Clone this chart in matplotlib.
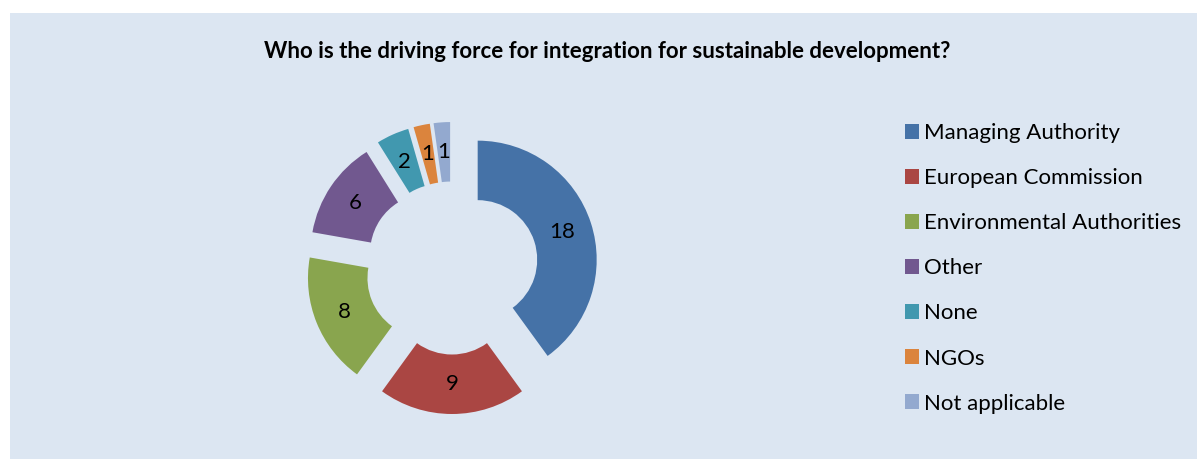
import matplotlib.pyplot as plt
from matplotlib.patches import Rectangle

# survey answers
categories = ['Managing Authority', 'European Commission', 'Environmental Authorities',
              'Other', 'None', 'NGOs', 'Not applicable']
counts = [18, 9, 8, 6, 2, 1, 1]
colors = ['#4572A7', '#AA4643', '#89A54E', '#71588F', '#4198AF', '#DB843D', '#93A9CF']
title = 'Who is the driving force for integration for sustainable development?'

W, H = 1197, 459
plt.rcParams['font.family'] = ['Lato', 'DejaVu Sans']

fig = plt.figure(figsize=(W / 100, H / 100), dpi=100)
fig.patch.set_facecolor('white')
# light blue chart area
fig.patches.append(Rectangle((10 / W, 0), 1, (H - 13) / H, transform=fig.transFigure,
                             facecolor='#DCE6F2', edgecolor='none', zorder=-5))

ax = fig.add_axes([0, 0, 1, 1])
ax.set_facecolor('none')
ax.set_zorder(2)

R = 119.0  # outer radius in px, used as unit
cx, cy = 452, H - 268
total = sum(counts)

wedges, _, autotexts = ax.pie(
    counts, colors=colors, radius=1, startangle=90, counterclock=False,
    explode=[27 / R] * len(counts), wedgeprops=dict(width=0.5, linewidth=0),
    autopct=lambda p: '%d' % round(p * total / 100), pctdistance=0.75,
    textprops=dict(fontsize=16, color='black'))

ax.set_xlim(-cx / R, (W - cx) / R)
ax.set_ylim(-cy / R, (H - cy) / R)
ax.set_aspect('equal')
ax.set_position([0, 0, 1, 1])
ax.axis('off')

fig.text(607 / W, 1 - 51 / H, title, ha='center', va='center',
         fontsize=16, fontweight='bold')

leg = ax.legend(wedges, categories, loc='upper left',
                bbox_to_anchor=(905 / W, 1 - 123 / H), bbox_transform=fig.transFigure,
                frameon=False, fontsize=16, handlelength=0.65, handleheight=0.65,
                handletextpad=0.22, labelspacing=1.13, borderpad=0, borderaxespad=0)

fig.savefig('out.png', dpi=100)
